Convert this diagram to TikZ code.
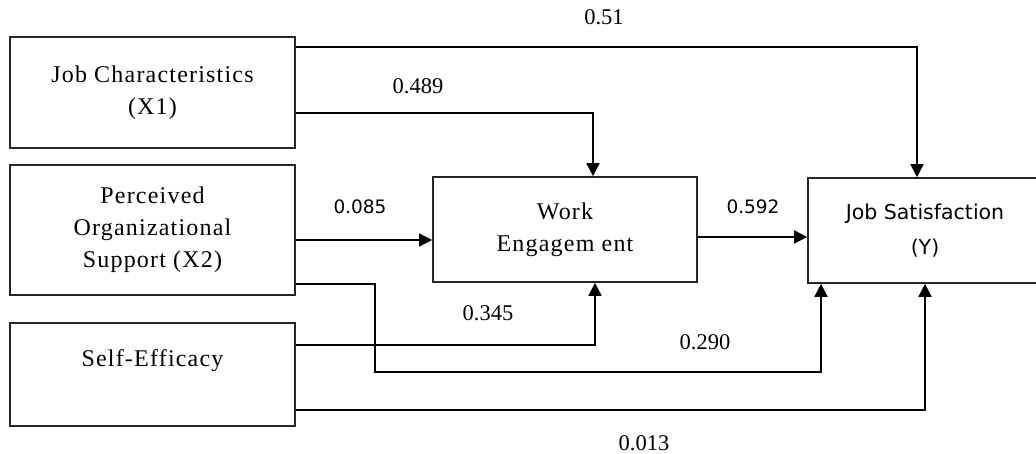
\documentclass[tikz,border=0pt]{standalone}
\usepackage{fontspec}
\setmainfont{Liberation Serif}
\newfontfamily\boxserif{Liberation Serif}[LetterSpace=5]
\newfontfamily\labelsans{DejaVu Sans}
\usepackage{tikz}
\usetikzlibrary{arrows.meta, positioning}
\usepackage{xcolor}

\begin{document}
\begin{tikzpicture}[x=1pt, y=-1pt, ->, >={Triangle[width=13pt, length=13pt]}, line width=1.6pt]
    \tikzstyle{var} = [draw=black!85, -, text centered, align=center, inner sep=0pt,
        font=\boxserif\fontsize{24}{32}\selectfont]
    \tikzstyle{coef} = [inner sep=0pt, font=\fontsize{22.5}{26}\selectfont]
    \tikzstyle{coefsans} = [inner sep=0pt, font=\labelsans\fontsize{18.5}{22}\selectfont]
    \useasboundingbox (0,0) rectangle (1036,454);
    \node [var, minimum width=285pt, minimum height=111pt] at (152.5,92.5) (jobchar) {Job Characteristics\\(X1)};
    \node [var, minimum width=285pt, minimum height=130pt] at (152.5,230) (orgsup) {Perceived\\Organizational\\Support (X2)};
    \node [var, minimum width=285pt, minimum height=103pt] at (152.5,374.5) (selfeff) {Self-Efficacy\\~};
    \node [var, minimum width=264pt, minimum height=105pt] at (565,229.5) (engage) {Work\\Engagem ent};
    \node [var, minimum width=234pt, minimum height=105pt, font=\labelsans\fontsize{20.5}{35}\selectfont]
        at (925,230.5) (jobsat) {Job Satisfaction\\(Y)};
    \draw (jobchar.east |- 0,47) -| ([xshift=-8pt]jobsat.north);
    \draw (jobchar.east |- 0,113) -| ([xshift=28pt]engage.north);
    \draw (orgsup.east |- 0,240) -- (engage.west |- 0,240);
    \draw (engage.east |- 0,237) -- (jobsat.west |- 0,237);
    \coordinate (bend) at (375,372);
    \draw (orgsup.east |- 0,284) -| (bend) -| ([xshift=-104pt]jobsat.south);
    \draw (selfeff.east |- 0,345) -| ([xshift=30pt]engage.south);
    \draw (selfeff.east |- 0,410) -| (jobsat.south);
    \node [coef] at (604,17) (c51) {0.51};
    \node [coef] at (418,86) (c489) {0.489};
    \node [coefsans] at (360,207) (c085) {0.085};
    \node [coefsans] at (753,207) (c592) {0.592};
    \node [coef] at (488,313) (c345) {0.345};
    \node [coef] at (705,342) (c290) {0.290};
    \node [coef] at (644,443) (c013) {0.013};
\end{tikzpicture}
\end{document}
